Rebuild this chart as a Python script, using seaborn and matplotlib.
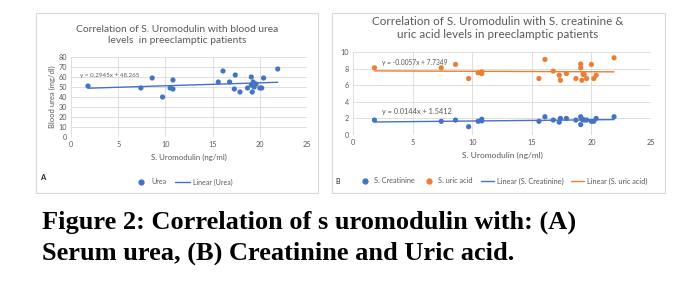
import numpy as np
import pandas as pd
import matplotlib
matplotlib.use('Agg')
import matplotlib.pyplot as plt
from matplotlib.patches import Rectangle
from matplotlib.lines import Line2D
import seaborn as sns

sns.set_theme(style='white')
plt.rcParams['font.family'] = ['Lato', 'DejaVu Sans']

# serum uromodulin (ng/ml), shared by both panels
uromodulin = [1.8, 7.4, 8.6, 9.7, 10.5, 10.8, 10.8, 15.6, 16.1, 16.8, 17.3, 17.4,
              17.9, 18.7, 19.1, 19.1, 19.2, 19.3, 19.4, 19.6, 20.0, 20.2, 20.4, 21.9]
urea = [51, 49, 59, 40, 49, 48, 57, 55, 66, 55, 48, 62,
        45, 49, 60, 52, 45, 55, 50, 53, 49, 49, 59, 68]
creatinine = [1.8, 1.65, 1.8, 1.0, 1.65, 1.9, 1.7, 1.65, 2.2, 1.8, 1.55, 2.0,
              2.0, 1.8, 2.2, 1.25, 1.9, 1.85, 1.8, 1.8, 1.65, 1.65, 2.0, 2.2]
uric_acid = [8.1, 8.1, 8.5, 6.8, 7.5, 7.6, 7.4, 6.8, 9.1, 7.7, 7.2, 6.6,
             7.4, 6.8, 8.55, 8.1, 6.6, 7.3, 7.3, 6.8, 8.5, 6.8, 7.2, 9.3]

# trendline coefficients (slope, intercept) as printed on the charts
fit_urea = (0.2945, 48.265)
fit_creat = (0.0144, 1.5412)
fit_uric = (-0.0057, 7.7349)

df = pd.DataFrame({'x': uromodulin, 'urea': urea,
                   'creat': creatinine, 'uric': uric_acid})

BLUE = '#4472c4'
ORANGE = '#ed7d31'
GREY = '#595959'
GRID = '#d9d9d9'

fig = plt.figure(figsize=(6.98, 2.93), dpi=100)
fig.patch.set_facecolor('white')

W, H = 698, 293


def fx(px):
    return px / W


def fy(py):
    return 1 - py / H


# panel frames
for x0, x1 in [(36, 318), (332, 665)]:
    fig.patches.append(Rectangle((fx(x0), fy(193)), fx(x1 - x0), (193 - 13) / H,
                                 transform=fig.transFigure, fill=False,
                                 edgecolor='#d9d9d9', linewidth=0.8))


def style_axis(ax, ymax, ystep):
    ax.set_xlim(0, 25)
    ax.set_ylim(0, ymax)
    ax.set_xticks(np.arange(0, 26, 5))
    ax.set_yticks(np.arange(0, ymax + 0.01, ystep))
    ax.grid(True, color=GRID, linewidth=0.6)
    ax.set_axisbelow(True)
    for s in ax.spines.values():
        s.set_visible(False)
    ax.tick_params(axis='both', labelsize=5.2, colors=GREY, length=0, pad=3)
    ax.set_facecolor('white')


def trend(ax, fit, color):
    xs = np.array([min(uromodulin), max(uromodulin)])
    ax.plot(xs, fit[0] * xs + fit[1], color=color, linewidth=1.0)


def eq_text(fit):
    sign = '+' if fit[1] >= 0 else '-'
    return f'y = {fit[0]:.4f}x {sign} {abs(fit[1])}'


# ---------- panel A ----------
axA = fig.add_axes([fx(71), fy(137), fx(307 - 71), (137 - 57) / H])
style_axis(axA, 80, 10)
sns.scatterplot(data=df, x='x', y='urea', ax=axA, color=BLUE, s=14,
                edgecolor='none', legend=False)
trend(axA, fit_urea, BLUE)
axA.text(0.95, 61, eq_text(fit_urea), fontsize=4.5, color=GREY, va='center')
axA.set_xlabel('S. Uromodulin (ng/ml)', fontsize=5.7, color=GREY, labelpad=4)
axA.set_ylabel('Blood urea (mg/dl)', fontsize=5.5, color=GREY, labelpad=2)
fig.text(fx(177), fy(35), 'Correlation of S. Uromodulin with blood urea\nlevels  in preeclamptic patients',
         ha='center', va='center', fontsize=7.4, color=GREY, linespacing=1.3)
fig.text(fx(43), fy(177), 'A', fontsize=5.5, color='#262626', fontweight='bold',
         ha='center', va='center')
hA = [Line2D([], [], marker='o', linestyle='none', color=BLUE, markersize=3.5),
      Line2D([], [], color=BLUE, linewidth=1.0)]
fig.legend(hA, ['Urea', 'Linear (Urea)'], loc='center', bbox_to_anchor=(fx(183), fy(182)),
           ncol=2, frameon=False, fontsize=5, handlelength=2.2, handletextpad=0.4,
           columnspacing=1.2, labelcolor=GREY)

# ---------- panel B ----------
axB = fig.add_axes([fx(353), fy(135), fx(651 - 353), (135 - 52) / H])
style_axis(axB, 10, 2)
sns.scatterplot(data=df, x='x', y='creat', ax=axB, color=BLUE, s=14,
                edgecolor='none', legend=False)
sns.scatterplot(data=df, x='x', y='uric', ax=axB, color=ORANGE, s=14,
                edgecolor='none', legend=False)
trend(axB, fit_creat, BLUE)
trend(axB, fit_uric, ORANGE)
axB.text(2.4, 8.75, eq_text(fit_uric), fontsize=4.8, color=GREY, va='center')
axB.text(2.4, 2.85, eq_text(fit_creat), fontsize=5.3, color=GREY, va='center')
axB.set_xlabel('S. Uromodulin (ng/ml)', fontsize=6, color=GREY, labelpad=4)
axB.set_ylabel('')
fig.text(fx(498), fy(28), 'Correlation of S. Uromodulin with S. creatinine &\nuric acid levels in preeclamptic patients',
         ha='center', va='center', fontsize=8.4, color=GREY, linespacing=1.25)
fig.text(fx(338), fy(181), 'B', fontsize=5, color='#262626', ha='center', va='center')
hB = [Line2D([], [], marker='o', linestyle='none', color=BLUE, markersize=3.5),
      Line2D([], [], marker='o', linestyle='none', color=ORANGE, markersize=3.5),
      Line2D([], [], color=BLUE, linewidth=1.0),
      Line2D([], [], color=ORANGE, linewidth=1.0)]
fig.legend(hB, ['S. Creatinine', 'S. uric acid', 'Linear (S. Creatinine)', 'Linear (S. uric acid)'],
           loc='center', bbox_to_anchor=(fx(503), fy(181)), ncol=4, frameon=False,
           fontsize=5.3, handlelength=1.7, handletextpad=0.4, columnspacing=1.1,
           labelcolor=GREY)

# ---------- caption ----------
cap_font = dict(ha='left', va='center', fontsize=19, fontweight='bold',
                family=['Liberation Serif', 'DejaVu Serif'], color='black')
fig.text(fx(42), fy(222), 'Figure 2: Correlation of s uromodulin with: (A)', **cap_font)
fig.text(fx(42), fy(253), 'Serum urea, (B) Creatinine and Uric acid.', **cap_font)

fig.savefig('out.png', dpi=100, facecolor='white')
